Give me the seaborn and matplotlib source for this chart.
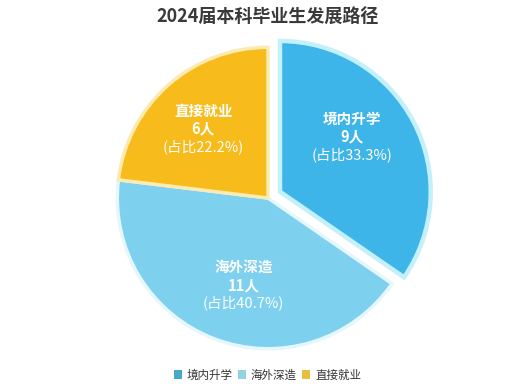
import numpy as np
import matplotlib
matplotlib.use("Agg")
import matplotlib.pyplot as plt
import seaborn as sns
from matplotlib.patches import Patch

sns.set_theme(style="white")
plt.rcParams['font.family'] = ['Noto Sans CJK SC', 'DejaVu Sans']

title = "2024届本科毕业生发展路径"
categories = ["境内升学", "海外深造", "直接就业"]
counts = [9, 11, 6]
shares = ["33.3%", "40.7%", "22.2%"]
colors = ["#3db5e8", "#7dd0ee", "#f7bb1b"]
glow = ["#c4f0fb", "#e6f7fc", "#fcebb0"]
legend_colors = ["#45a9c9", "#8fd3e3", "#e9be3c"]
explode = [0.09, 0, 0]

W, H = 519, 387
fig = plt.figure(figsize=(W / 100, H / 100), dpi=100)
fig.patch.set_facecolor("white")

cx, cy, r = 268, 198, 157
half = 1.2 * r
ax = fig.add_axes([(cx - half) / W, (H - cy - half) / H, 2 * half / W, 2 * half / H])
ax.set_xlim(-1.2, 1.2)
ax.set_ylim(-1.2, 1.2)
ax.set_aspect("equal")
ax.axis("off")

wedges, _ = ax.pie(counts, colors=colors, explode=explode, startangle=90,
                   counterclock=False, radius=1.0,
                   wedgeprops=dict(linewidth=2.5, edgecolor="white"))
for w, g in zip(wedges, glow):
    w.set_edgecolor(g)
wedges[0].set_linewidth(3.2)

total = sum(counts)
start = 90.0
dist = [0.6, 0.6, 0.63]
angle_adj = [10, 5, 1.5]
for i, (cat, n, s, e) in enumerate(zip(categories, counts, shares, explode)):
    sweep = 360.0 * n / total
    mid = start - sweep / 2
    start -= sweep
    a = np.deg2rad(mid)
    a2 = np.deg2rad(mid + angle_adj[i])
    x = e * np.cos(a) + dist[i] * np.cos(a2)
    y = e * np.sin(a) + dist[i] * np.sin(a2)
    ax.text(x, y + 0.12, cat, ha="center", va="center", color="white",
            fontsize=10.5, fontweight="bold")
    ax.text(x, y, f"{n}人", ha="center", va="center", color="white",
            fontsize=10.5, fontweight="bold")
    ax.text(x, y - 0.12, f"(占比{s})", ha="center", va="center", color="white",
            fontsize=10.5)

fig.text(0.515, 1 - 17 / H, title, ha="center", va="center", fontsize=13,
         fontweight="bold", color="#3a3a3a")

handles = [Patch(facecolor=c, edgecolor="none") for c in legend_colors]
fig.legend(handles, categories, loc="center", bbox_to_anchor=(0.515, 1 - 375 / H),
           ncol=3, frameon=False, fontsize=8.3, handlelength=0.7, handleheight=0.7,
           handletextpad=0.4, columnspacing=0.5, labelcolor="#333333")

fig.savefig("out.png", dpi=100, facecolor="white")
